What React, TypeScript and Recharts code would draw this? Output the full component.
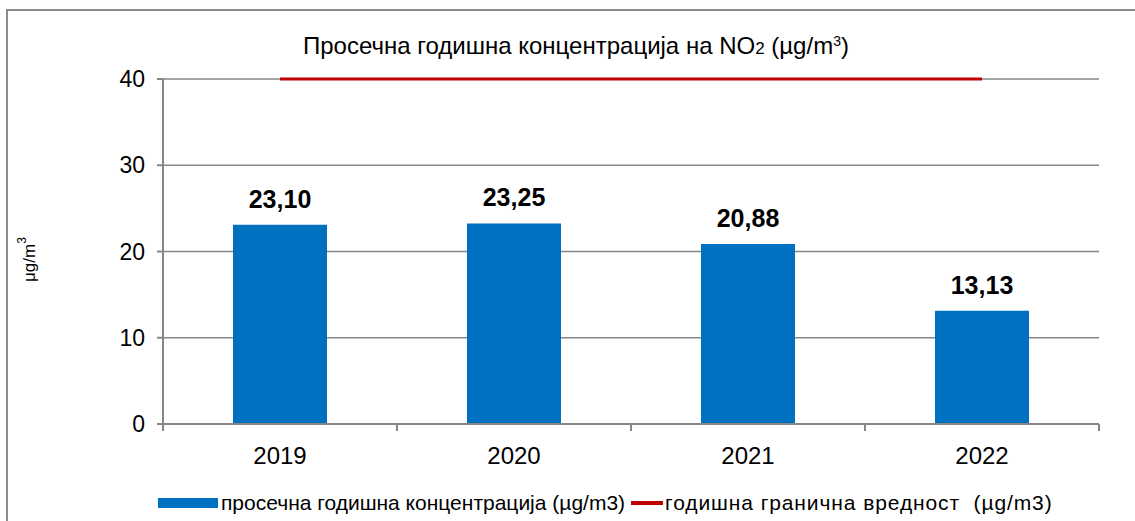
import React from 'react';
import { ComposedChart, Bar, Line, XAxis, YAxis, CartesianGrid, Legend, LabelList, Label } from 'recharts';

const years = ['2019', '2020', '2021', '2022'];
const average = [23.1, 23.25, 20.88, 13.13];
const limit = [40, 40, 40, 40];
const yTicks = [0, 10, 20, 30, 40];

const data = years.map((year, i) => ({ year, average: average[i], limit: limit[i] }));

const FONT = '"Liberation Sans", Arial, sans-serif';
const GRAY = '#868686';
const TICK_SIZE = 7;
const TICK_MARGIN = 14;

const fmt = (v: number) => v.toFixed(2).replace('.', ',');

// category label at the centre, tick marks on the band edges like Excel does
const YearTick = (props: any) => {
  const { x, y, payload, width, visibleTicksCount, index } = props;
  const half = width / visibleTicksCount / 2;
  const axisY = y - TICK_SIZE - TICK_MARGIN;
  return (
    <g>
      <line x1={x - half} x2={x - half} y1={axisY} y2={axisY + TICK_SIZE} stroke={GRAY} strokeWidth={2} />
      {index === visibleTicksCount - 1 && (
        <line x1={x + half} x2={x + half} y1={axisY} y2={axisY + TICK_SIZE} stroke={GRAY} strokeWidth={2} />
      )}
      <text x={x} y={y} dy={19} textAnchor="middle" fontSize={24} fill="#000" fontFamily={FONT}>
        {payload.value}
      </text>
    </g>
  );
};

const UnitLabel = (props: any) => {
  const { viewBox } = props;
  const cx = 29;
  const cy = viewBox.y + viewBox.height / 2 + 8;
  return (
    <text transform={`rotate(-90, ${cx}, ${cy})`} x={cx} y={cy} textAnchor="middle" dominantBaseline="central" fontSize={17} fontFamily={FONT} fill="#000">
      μg/m<tspan dy={-7} fontSize={12}>3</tspan>
    </text>
  );
};

const LegendContent = () => (
  <div style={{ display: 'flex', alignItems: 'center', height: 30, paddingLeft: 152, fontFamily: FONT, fontSize: 21, color: '#000', whiteSpace: 'nowrap' }}>
    <span style={{ display: 'inline-block', width: 60, height: 10, background: '#0070C0', marginRight: 3 }} />
    <span>просечна годишна концентрација (µg/m3)</span>
    <span style={{ display: 'inline-block', width: 32, height: 4, background: '#C00000', marginLeft: 6, marginRight: 2 }} />
    <span style={{ letterSpacing: 0.9 }}>годишна гранична вредност&nbsp; (µg/m3)</span>
  </div>
);

export default function App() {
  return (
    <div style={{ position: 'absolute', left: 0, top: 0, width: 1135, height: 521, overflow: 'hidden', background: '#fff' }}>
      <div style={{ position: 'absolute', left: 6, top: 9, width: 1140, height: 540, borderLeft: '2px solid #8c8c8c', borderTop: '2px solid #8c8c8c' }} />
      <div style={{ position: 'absolute', left: 303, top: 32, fontFamily: FONT, fontSize: 24, color: '#000', whiteSpace: 'nowrap' }}>
        Просечна годишна концентрација на NO<span style={{ fontSize: 17 }}>2</span> (µg/m<sup style={{ fontSize: 14, verticalAlign: '8px' }}>3</sup>)
      </div>
      <div style={{ position: 'absolute', left: 0, top: 0 }}>
        <ComposedChart width={1135} height={521} data={data} margin={{ top: 79, right: 36, left: 6, bottom: 3 }} barCategoryGap="30%">
          <CartesianGrid vertical={false} stroke={GRAY} strokeWidth={1.5} />
          <XAxis
            dataKey="year"
            height={64}
            axisLine={{ stroke: GRAY, strokeWidth: 2 }}
            tickLine={false}
            tickSize={TICK_SIZE}
            tickMargin={TICK_MARGIN}
            tick={<YearTick />}
            interval={0}
          />
          <YAxis
            domain={[0, 40]}
            ticks={yTicks}
            width={157}
            axisLine={{ stroke: GRAY, strokeWidth: 2 }}
            tickLine={{ stroke: GRAY, strokeWidth: 2 }}
            tickSize={6}
            tickMargin={12}
            tick={{ fontSize: 23, fill: '#000', fontFamily: FONT }}
          >
            <Label content={<UnitLabel />} />
          </YAxis>
          <Legend verticalAlign="bottom" content={<LegendContent />} />
          <Bar dataKey="average" fill="#0070C0" isAnimationActive={false} barSize={94}>
            <LabelList dataKey="average" position="top" offset={17} formatter={(v: any) => fmt(Number(v))} style={{ fontSize: 25, fontWeight: 700, fill: '#000', fontFamily: FONT }} />
          </Bar>
          <Line dataKey="limit" stroke="#C00000" strokeWidth={3} dot={false} activeDot={false} isAnimationActive={false} />
        </ComposedChart>
      </div>
    </div>
  );
}
